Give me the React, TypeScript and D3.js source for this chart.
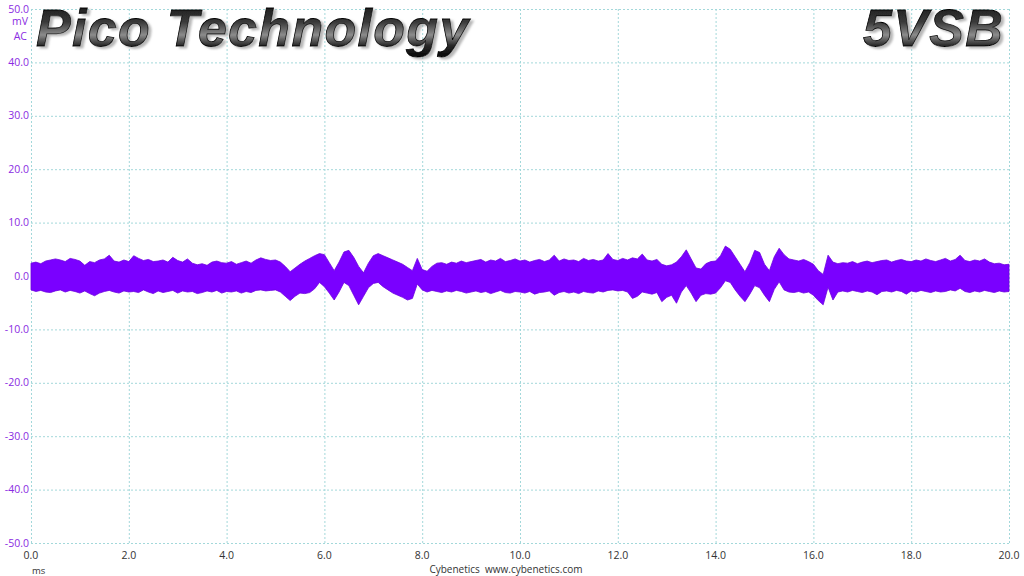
import { useMemo } from "react";
import * as d3 from "d3";

const WIDTH = 1024;
const HEIGHT = 576;

// time axis: one envelope sample every 0.1 ms, 0.0 .. 20.0 ms
const STEP_MS = 0.1;

// upper envelope of the ripple trace (mV)
const upper = [
  2.4, 2.6, 2.3, 2.8, 3.0, 3.2, 3.0, 2.7, 3.3, 3.1, 2.8,
  2.0, 2.7, 2.5, 3.0, 3.2, 3.9, 2.8, 2.6, 3.0, 2.7,
  3.8, 3.3, 2.9, 3.1, 2.7, 2.8, 3.0, 2.6, 3.5, 2.9,
  2.6, 3.2, 2.4, 2.1, 2.3, 2.0, 2.6, 2.8, 2.5, 2.4,
  2.7, 2.2, 2.5, 2.8, 2.4, 3.0, 3.4, 3.1, 2.9, 3.0,
  2.6, 1.8, 0.8, 1.5, 2.2, 2.8, 3.3, 3.8, 4.2, 4.0,
  2.5, 1.0, 2.6, 4.5, 4.8, 3.5, 1.8, 0.6, 2.4, 3.8,
  4.2, 3.8, 3.4, 3.0, 2.6, 2.2, 1.6, 1.0, 3.3, 1.2,
  0.9, 1.8, 2.4, 2.5, 2.2, 2.6, 2.4, 2.8, 2.5, 2.7,
  2.9, 3.1, 2.6, 3.0, 2.8, 3.3, 2.7, 2.9, 3.2, 2.8,
  3.0, 2.6, 2.9, 3.1, 2.7, 3.0, 3.9, 2.8, 3.2, 2.9,
  3.0, 2.7, 3.3, 2.9, 3.1, 2.8, 3.0, 4.2, 3.1, 2.9,
  3.3, 3.0, 3.4, 3.2, 4.1, 3.0, 2.8, 3.1, 2.2, 1.9,
  2.1, 2.6, 3.6, 4.9, 3.2, 1.5, 1.3, 2.3, 2.7, 2.8,
  3.8, 5.6, 5.0, 3.6, 2.2, 0.8, 2.5, 4.8, 4.4, 2.2,
  1.0, 3.6, 5.2, 4.0, 3.2, 3.0, 2.8, 3.1, 2.7, 2.2,
  1.0, 0.3, 3.9, 2.6, 2.3, 2.5, 2.4, 2.7, 2.3, 2.6,
  2.8, 2.5, 2.7, 2.9, 3.0, 2.6, 2.9, 3.1, 2.8, 2.7,
  3.0, 2.8, 3.2, 2.9, 2.7, 3.0, 3.3, 2.8, 3.1, 3.9,
  2.9, 2.7, 3.0, 2.8, 3.2, 2.6, 2.3, 2.4, 2.1, 2.2,
];

// lower envelope of the ripple trace (mV)
const lower = [
  -2.6, -2.9, -2.7, -3.0, -3.1, -2.8, -2.6, -3.0, -2.7, -2.9, -3.2,
  -2.8, -3.3, -3.7, -3.2, -2.9, -2.7, -3.0, -3.2, -2.8, -3.0,
  -2.9, -3.1, -2.6, -3.0, -3.3, -2.8, -3.1, -2.9, -2.7, -3.2,
  -2.8, -3.0, -2.9, -3.3, -3.1, -2.8, -3.0, -2.7, -3.2, -2.9,
  -3.0, -2.8, -3.2, -2.9, -3.1, -2.7, -2.6, -2.8, -2.7, -2.6,
  -3.0, -3.8, -4.6, -3.8, -3.2, -3.3, -3.1, -2.4, -1.2, -2.0,
  -3.2, -4.5, -3.0, -1.2, -1.8, -3.6, -5.4, -3.8, -2.2, -1.4,
  -1.2, -2.0, -2.6, -3.2, -3.6, -4.0, -4.5, -4.2, -1.5, -2.6,
  -3.0, -2.7, -2.9, -3.1, -2.8, -3.0, -2.7, -2.9, -3.2, -3.0,
  -2.8, -3.1, -2.9, -3.3, -3.0, -2.7, -3.1, -3.2, -2.9, -3.0,
  -3.2, -2.9, -3.4, -3.1, -3.0, -2.8, -3.6, -3.1, -2.9, -3.2,
  -3.0, -3.3, -2.9, -3.1, -3.2, -2.8, -3.0, -2.7, -2.6, -2.8,
  -2.7, -3.0, -4.2, -3.8, -3.0, -3.2, -3.4, -3.1, -4.8, -4.0,
  -3.6, -5.1, -3.0, -1.8, -3.2, -4.8, -3.6, -3.3, -3.4, -3.2,
  -2.2, -0.9, -1.2, -2.6, -3.8, -4.8, -3.4, -1.8, -2.2, -3.6,
  -4.8, -2.5, -1.1, -2.6, -3.0, -3.1, -2.9, -3.2, -3.0, -3.6,
  -4.6, -5.4, -2.1, -4.5, -3.0, -2.8, -3.0, -2.7, -2.9, -3.1,
  -2.8, -3.0, -3.5, -2.9, -2.8, -3.0, -2.7, -2.9, -3.4, -2.8,
  -3.0, -2.7, -2.9, -3.1, -2.8, -3.0, -2.9, -2.6, -2.8, -2.3,
  -2.9, -3.1, -2.8, -3.0, -2.7, -2.9, -3.1, -2.8, -3.0, -2.9,
];

const xTicks = [0, 2, 4, 6, 8, 10, 12, 14, 16, 18, 20];
const yTicks = [50, 40, 30, 20, 10, 0, -10, -20, -30, -40, -50];

const TITLE = "Pico Technology";
const RAIL = "5VSB";

const LABEL_FONT = "'Open Sans', 'DejaVu Sans', sans-serif";
const TITLE_FONT = "'Liberation Sans', Arial, sans-serif";

export default function App() {
  const x = d3.scaleLinear().domain([0, 20]).range([31, 1009]);
  const y = d3.scaleLinear().domain([-50, 50]).range([543, 9]);

  const tracePath = useMemo(() => {
    const pts = upper.map((u, i) => ({ t: i * STEP_MS, hi: u, lo: lower[i] }));
    const area = d3
      .area<{ t: number; hi: number; lo: number }>()
      .x((d) => x(d.t))
      .y0((d) => y(d.lo))
      .y1((d) => y(d.hi));
    return area(pts) || "";
  }, []);

  const gridColor = "#a3d8da";

  return (
    <svg
      width={WIDTH}
      height={HEIGHT}
      style={{ position: "absolute", left: 0, top: 0, background: "#fff" }}
    >
      <defs>
        <linearGradient id="chrome" x1="0" y1="0" x2="0" y2="1">
          <stop offset="0%" stopColor="#111" />
          <stop offset="40%" stopColor="#3a3a3a" />
          <stop offset="62%" stopColor="#8c8c8c" />
          <stop offset="80%" stopColor="#2a2a2a" />
          <stop offset="100%" stopColor="#050505" />
        </linearGradient>
        <filter id="shadow" x="-5%" y="-20%" width="110%" height="140%">
          <feDropShadow dx={3} dy={2} stdDeviation={0.8} floodColor="#999" floodOpacity={0.7} />
        </filter>
      </defs>

      {/* grid */}
      <g stroke={gridColor} strokeWidth={1} strokeDasharray="2,2">
        {xTicks.map((t) => (
          <line key={"gx" + t} x1={x(t) + 0.5} x2={x(t) + 0.5} y1={y(50)} y2={y(-50)} />
        ))}
        {yTicks.map((v) => (
          <line key={"gy" + v} x1={x(0)} x2={x(20)} y1={y(v) + 0.5} y2={y(v) + 0.5} />
        ))}
      </g>

      {/* ripple trace */}
      <path d={tracePath} fill="#7a00ff" stroke="#6c00e0" strokeWidth={0.8} />

      {/* y axis labels */}
      <g fontFamily={LABEL_FONT} fontSize={10.5} fill="#8a2be2" textAnchor="end">
        {yTicks.map((v) => (
          <text key={"ly" + v} x={29} y={y(v) + 3.5}>
            {v.toFixed(1)}
          </text>
        ))}
        <text x={28} y={25}>mV</text>
        <text x={27} y={40}>AC</text>
      </g>

      {/* x axis labels */}
      <g fontFamily={LABEL_FONT} fontSize={10.5} fill="#333" textAnchor="middle">
        {xTicks.map((t) => (
          <text key={"lx" + t} x={x(t)} y={559}>
            {t.toFixed(1)}
          </text>
        ))}
      </g>
      <text x={32} y={574} fontFamily={LABEL_FONT} fontSize={9.5} fill="#333">
        ms
      </text>
      <text
        x={506}
        y={573}
        fontFamily={LABEL_FONT}
        fontSize={10}
        fill="#333"
        textAnchor="middle"
        xmlSpace="preserve"
      >
        {"Cybenetics  www.cybenetics.com"}
      </text>

      {/* headline texts */}
      <g
        fontFamily={TITLE_FONT}
        fontSize={52}
        fontWeight="bold"
        fontStyle="italic"
        letterSpacing={1.3}
        fill="url(#chrome)"
        stroke="#000"
        strokeWidth={0.8}
        filter="url(#shadow)"
      >
        <text x={36} y={46}>{TITLE}</text>
        <text x={1004} y={46} textAnchor="end">{RAIL}</text>
      </g>
    </svg>
  );
}
